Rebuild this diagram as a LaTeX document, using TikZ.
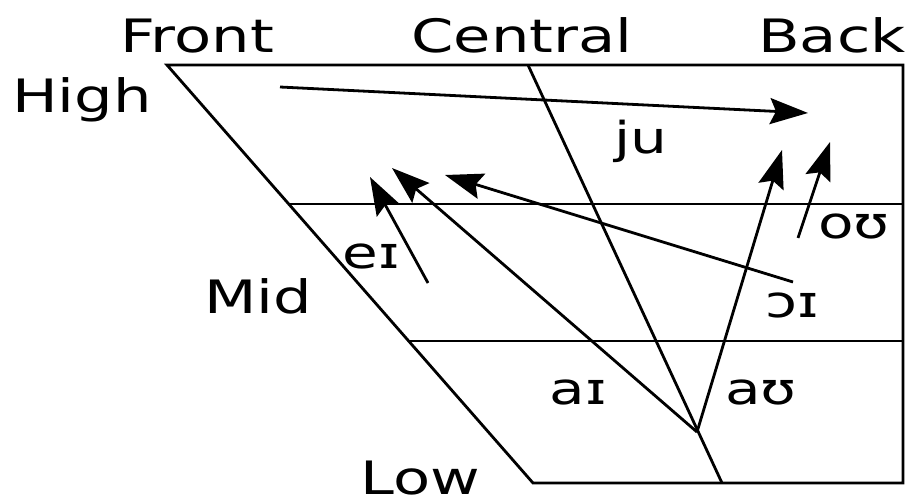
\documentclass[tikz,border=0pt]{standalone}
\usepackage{fontspec}
\setmainfont[FakeStretch=1.32]{DejaVu Sans}
\usetikzlibrary{arrows.meta}
\begin{document}
\begin{tikzpicture}[x=1pt,y=-1pt,
  frame/.style={line width=2.8pt,line join=miter},
  vowarrow/.style={line width=2.8pt,-{Stealth[length=38pt,width=26pt,inset=6pt]}},
  lbl/.style={font=\fontsize{46}{46}\selectfont,anchor=base,inner sep=0pt},
  ipa/.style={font=\fontsize{44}{44}\selectfont,anchor=base,inner sep=0pt}]
\useasboundingbox (0,0) rectangle (905,495);
% chart corners
\coordinate (tl) at (167,65);
\coordinate (tr) at (903,65);
\coordinate (br) at (903,483);
\coordinate (bl) at (533,483);
\coordinate (m1l) at (289,204);
\coordinate (m1r) at (903,204);
\coordinate (m2l) at (409,341);
\coordinate (m2r) at (903,341);
\coordinate (ct) at (528,65);
\coordinate (cb) at (722,483);
\draw[frame] (tl) -- (tr) -- (br) -- (bl) -- cycle;
\draw[frame] (m1l) -- (m1r);
\draw[frame] (m2l) -- (m2r);
\draw[frame] (ct) -- (cb);
% arrow ends
\coordinate (juS) at (280,87);
\coordinate (juE) at (808,113);
\coordinate (o) at (697,432);
\coordinate (aiE) at (392,168);
\coordinate (oiS) at (793,282);
\coordinate (oiE) at (445,175);
\coordinate (eiS) at (428,283);
\coordinate (eiE) at (370,177);
\coordinate (auE) at (782,150);
\coordinate (ouS) at (798,238);
\coordinate (ouE) at (830,142);
\draw[vowarrow] (juS) -- (juE);
\draw[vowarrow] (o) -- (aiE);
\draw[vowarrow] (oiS) -- (oiE);
\draw[vowarrow] (eiS) -- (eiE);
\draw[vowarrow] (o) -- (auE);
\draw[vowarrow] (ouS) -- (ouE);
% axis labels
\node[lbl] (front) at (197,53) {Front};
\node[lbl] (central) at (522,53) {Central};
\node[lbl] (back) at (832,53) {Back};
\node[lbl] (high) at (82,112) {High};
\node[lbl] (mid) at (258,313) {Mid};
\node[lbl] (low) at (420,494) {Low};
% vowel labels
\node[ipa] (ju) at (641,153) {ju};
\node[ipa] (ou) at (854,238) {oʊ};
\node[ipa] (ei) at (371,268) {eɪ};
\node[ipa] (oi) at (792,317) {ɔɪ};
\node[ipa] (ai) at (578,404) {aɪ};
\node[ipa] (au) at (761,404) {aʊ};
\end{tikzpicture}
\end{document}
